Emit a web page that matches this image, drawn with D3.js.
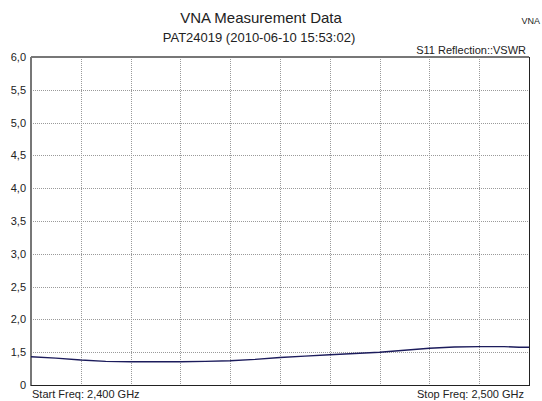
<!DOCTYPE html>
<meta charset="utf-8">
<script src="https://d3js.org/d3.v7.min.js"></script>
<style>
  body { margin: 0; background: #fff; }
  text { font-family: "Liberation Sans", Arial, sans-serif; }
</style>
<div id="chart"></div>
<script>

// data
var freqs = [2.400, 2.405, 2.410, 2.415, 2.420, 2.425, 2.430, 2.435, 2.440, 2.445, 2.450,
             2.455, 2.460, 2.465, 2.470, 2.475, 2.480, 2.485, 2.490, 2.495, 2.498, 2.500];
var vswr  = [1.43, 1.41, 1.38, 1.36, 1.355, 1.355, 1.355, 1.36, 1.37, 1.39, 1.42,
             1.44, 1.46, 1.48, 1.50, 1.53, 1.56, 1.58, 1.585, 1.585, 1.575, 1.575];
var yTickValues = [1, 1.5, 2, 2.5, 3, 3.5, 4, 4.5, 5, 5.5, 6];
var yTickLabels = ["0", "1,5", "2,0", "2,5", "3,0", "3,5", "4,0", "4,5", "5,0", "5,5", "6,0"];
var xGridCount = 10;

var width = 542, height = 401;
var plotLeft = 31, plotRight = 529, plotTop = 57, plotBottom = 385;

var svg = d3.select("#chart")
  .append("svg")
    .attr("width", width)
    .attr("height", height);

var x = d3.scaleLinear().domain([2.4, 2.5]).range([plotLeft, plotRight]);
var y = d3.scaleLinear().domain([1, 6]).range([plotBottom, plotTop]);

// grid
svg.append("g")
  .selectAll("line")
  .data(yTickValues.slice(1, -1))
  .enter()
  .append("line")
    .attr("x1", plotLeft).attr("x2", plotRight)
    .attr("y1", function(d){ return Math.round(y(d)) + 0.5 })
    .attr("y2", function(d){ return Math.round(y(d)) + 0.5 })
    .attr("stroke", "#9a9a9a")
    .style("stroke-dasharray", "1,1");

svg.append("g")
  .selectAll("line")
  .data(d3.range(1, xGridCount))
  .enter()
  .append("line")
    .attr("x1", function(i){ return Math.round(x(2.4 + i * 0.1 / xGridCount)) + 0.5 })
    .attr("x2", function(i){ return Math.round(x(2.4 + i * 0.1 / xGridCount)) + 0.5 })
    .attr("y1", plotTop).attr("y2", plotBottom)
    .attr("stroke", "#9a9a9a")
    .style("stroke-dasharray", "1,1");

// frame: grey left/top, black right/bottom
svg.append("line").attr("x1", plotLeft).attr("x2", plotLeft).attr("y1", plotTop).attr("y2", plotBottom + 1)
  .attr("stroke", "#777").attr("stroke-width", 2);
svg.append("line").attr("x1", plotLeft).attr("x2", plotRight).attr("y1", plotTop).attr("y2", plotTop)
  .attr("stroke", "#777").attr("stroke-width", 2);
svg.append("line").attr("x1", plotRight + 0.5).attr("x2", plotRight + 0.5).attr("y1", plotTop).attr("y2", plotBottom + 1)
  .attr("stroke", "#222");
svg.append("line").attr("x1", plotLeft).attr("x2", plotRight + 1).attr("y1", plotBottom + 0.5).attr("y2", plotBottom + 0.5)
  .attr("stroke", "#222");

// y labels
svg.append("g")
  .selectAll("text")
  .data(yTickValues)
  .enter()
  .append("text")
    .attr("x", 26)
    .attr("y", function(d){ return y(d) + 4 })
    .attr("text-anchor", "end")
    .style("font-size", "11px")
    .style("fill", "#222")
    .text(function(d, i){ return yTickLabels[i] });

// curve
var line = d3.line()
  .x(function(d, i){ return x(freqs[i]) })
  .y(function(d){ return y(d) });

svg.append("path")
  .datum(vswr)
  .attr("d", line)
  .attr("fill", "none")
  .attr("stroke", "#1c1c5c")
  .attr("stroke-width", 1.4);

// titles
svg.append("text")
  .attr("x", 261).attr("y", 23)
  .attr("text-anchor", "middle")
  .style("font-size", "15px")
  .style("fill", "#222")
  .text("VNA Measurement Data");

svg.append("text")
  .attr("x", 259).attr("y", 42)
  .attr("text-anchor", "middle")
  .style("font-size", "13px")
  .style("fill", "#222")
  .text("PAT24019 (2010-06-10 15:53:02)");

svg.append("text")
  .attr("x", 540).attr("y", 24)
  .attr("text-anchor", "end")
  .style("font-size", "9px")
  .style("fill", "#222")
  .text("VNA");

svg.append("text")
  .attr("x", 526).attr("y", 54)
  .attr("text-anchor", "end")
  .style("font-size", "11px")
  .style("fill", "#222")
  .text("S11 Reflection::VSWR");

svg.append("text")
  .attr("x", 32).attr("y", 398)
  .style("font-size", "11px")
  .style("fill", "#222")
  .text("Start Freq: 2,400 GHz");

svg.append("text")
  .attr("x", 524).attr("y", 398)
  .attr("text-anchor", "end")
  .style("font-size", "11px")
  .style("fill", "#222")
  .text("Stop Freq: 2,500 GHz");

</script>
